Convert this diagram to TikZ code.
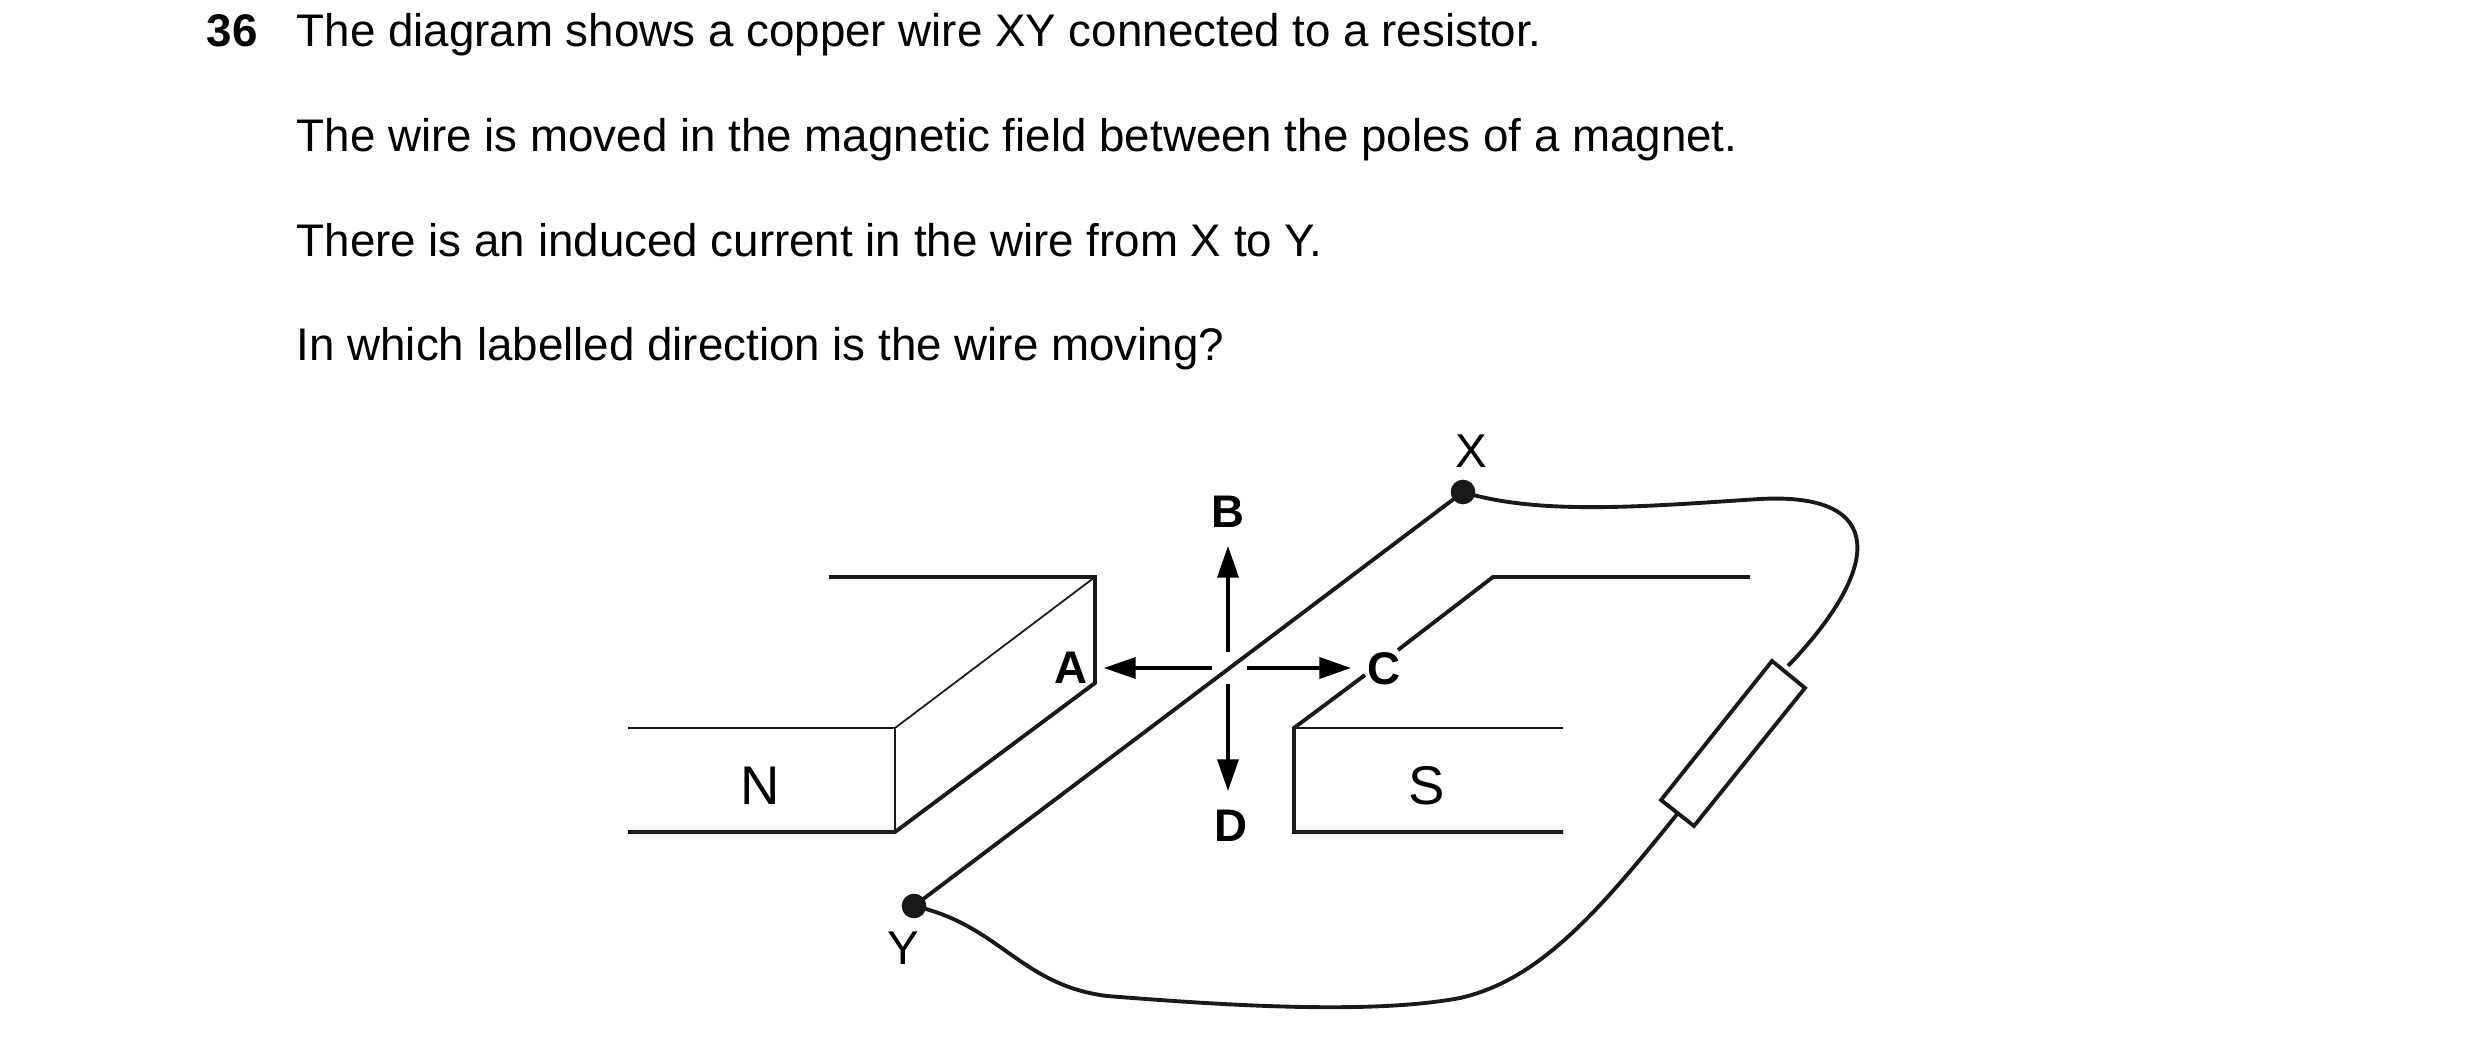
\documentclass[tikz,border=0pt]{standalone}
\usepackage{fontspec}
\setmainfont{Liberation Sans}
\usetikzlibrary{arrows.meta}
\begin{document}
\begin{tikzpicture}[x=0.01cm,y=-0.01cm,
  thick line/.style={line width=1.1pt,color=black!90},
  thin line/.style={line width=0.5pt,color=black!90},
  txt/.style={anchor=base west,inner sep=0,font=\fontsize{13pt}{15pt}\selectfont},
  lbl/.style={inner sep=0,font=\fontsize{13.5pt}{15pt}\selectfont},
  big/.style={inner sep=0,font=\fontsize{15.5pt}{17pt}\selectfont},
  blbl/.style={inner sep=0,font=\fontsize{13pt}{15pt}\selectfont\bfseries},
  arr/.style={line width=0.9pt,-{Triangle[length=9pt,width=6pt]}},
  dot/.style={circle,fill=black!90,inner sep=0,minimum size=7pt}]
\useasboundingbox (0,0) rectangle (2480,1052);
% text
\node[txt,font=\fontsize{13pt}{15pt}\selectfont\bfseries] (q) at (206,47) {36};
\node[txt] (t1) at (296,47) {The diagram shows a copper wire XY connected to a resistor.};
\node[txt] (t2) at (296,152) {The wire is moved in the magnetic field between the poles of a magnet.};
\node[txt] (t3) at (296,257) {There is an induced current in the wire from X to Y.};
\node[txt] (t4) at (296,361) {In which labelled direction is the wire moving?};
% N magnet
\draw[thick line] (829,577) -- (1095,577) -- (1095,683) -- (895,832) -- (628,832);
\draw[thin line] (628,728) -- (895,728) -- (895,832);
\draw[thin line] (895,728) -- (1095,577);
\node[big] (N) at (760,786) {N};
% S magnet
\draw[thin line] (1294,728) -- (1563,728);
\draw[thick line] (1563,832) -- (1294,832) -- (1294,728) -- (1365,675);
\draw[thick line] (1398,650) -- (1493,577) -- (1750,577);
\node[big] (S) at (1427,786) {S};
% wire
\node[dot] (X) at (1463,492) {};
\node[dot] (Y) at (914,906) {};
\draw[thick line] (X.center) -- (Y.center);
\node[lbl] (XL) at (1471,451) {X};
\node[lbl] (YL) at (903,948) {Y};
% arrows
\coordinate (O) at (1228,668);
\node[blbl] (B) at (1228,512) {B};
\node[blbl] (D) at (1231,826) {D};
\node[blbl] (A) at (1071,668) {A};
\node[blbl] (C) at (1384,669) {C};
\draw[arr] (1228,652) -- (1228,546);
\draw[arr] (1228,684) -- (1228,791);
\draw[arr] (1212,668) -- (1104,668);
\draw[arr] (1247,668) -- (1351,668);
% resistor
\coordinate (R1) at (1788,666);
\coordinate (R2) at (1678,813);
\draw[thick line] (1772,661) -- (1805,688) -- (1694,826) -- (1661,800) -- cycle;
\draw[thick line] (X.center) .. controls (1540,516) and (1650,506) .. (1760,499)
  .. controls (1890,492) and (1880,570) .. (R1);
\draw[thick line] (R2) .. controls (1600,910) and (1540,980) .. (1460,998)
  .. controls (1370,1015) and (1220,1005) .. (1107,996)
  .. controls (1020,985) and (1000,925) .. (Y.center);
\end{tikzpicture}
\end{document}
